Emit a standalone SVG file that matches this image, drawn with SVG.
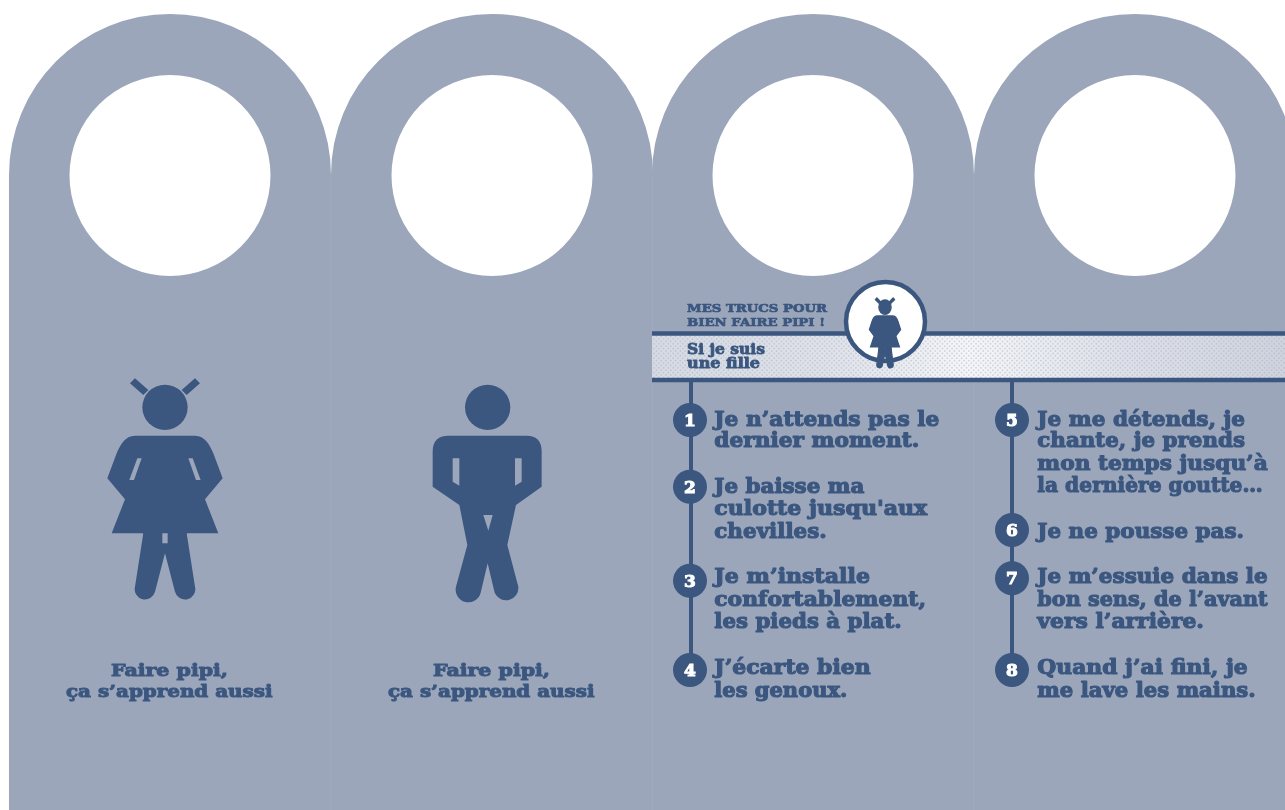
<svg xmlns="http://www.w3.org/2000/svg" width="1285" height="810" viewBox="0 0 1285 810">
<style>
.ink{fill:#3b577f}
.bg{fill:#9ba6bb}
.t{font-family:"DejaVu Serif","Liberation Serif",serif;font-weight:700;fill:#3b577f;stroke:#3b577f;stroke-width:1.1px;stroke-linejoin:round}
.m{font-size:20px}
.c{font-size:17px;stroke-width:1px}
.s{font-size:11.5px;stroke-width:.7px}
.b{font-size:14px;stroke-width:.8px}
.n{font-family:"DejaVu Serif","Liberation Serif",serif;font-weight:700;font-size:17px;fill:#fff;stroke:#fff;stroke-width:1px;text-anchor:middle}
.rule{stroke:#3b577f;fill:none}
</style>
<defs>
<filter id="soft" filterUnits="userSpaceOnUse" x="-20" y="-20" width="1325" height="850"><feGaussianBlur stdDeviation="0.75"/></filter>
<linearGradient id="sheen" gradientUnits="userSpaceOnUse" x1="652" y1="0" x2="1285" y2="0">
<stop offset="0" stop-color="#d6dae2"/><stop offset=".28" stop-color="#dfe2e9"/><stop offset=".5" stop-color="#f5f6f8"/><stop offset=".75" stop-color="#dde0e8"/><stop offset="1" stop-color="#cfd3de"/>
</linearGradient>
<pattern id="dots" width="3.4" height="3.4" patternUnits="userSpaceOnUse" patternTransform="rotate(45)"><circle cx="1.7" cy="1.7" r=".9" fill="#a6aec2" fill-opacity=".55"/></pattern>
<path id="hanger" d="M0,810V175A161,161 0 0 1 322,175V810ZM60.500,175.500A100.500,100.500 0 1 0 261.500,175.500A100.500,100.500 0 1 0 60.500,175.500Z" fill="#9ba6bb" fill-rule="evenodd"/>
<g id="girl">
<circle cx="225" cy="112" r="68" class="ink"/>
<path class="ink" d="M120,40L135,25L175,60L160,75ZM330,40L315,25L275,60L290,75Z"/>
<path class="ink" d="M135,197H315C345,197 360,225 370,250L398,325L345,388L385,490H290L315,650A30,30 0 0 1 255,665L225,550L195,665A30,30 0 0 1 135,650L160,490H65L105,388L52,325L80,250C90,225 105,197 135,197Z"/>
<path class="ink" d="M160,488H290V510H160Z"/>
<path class="bg" d="M217,490H233V520H217ZM142,265H155L132,330H118ZM295,265H308L332,330H318Z"/>
</g>
<g id="boy">
<circle cx="203" cy="112" r="68" class="ink"/>
<path class="ink" d="M85,197H320Q365,197 365,245V350L288,405L262,525L295,650A37,37 0 0 1 224,668L203,580L182,668A37,37 0 0 1 108,650L142,525L118,405L38,350V245Q38,197 85,197Z"/>
<path class="bg" d="M98,265H118V347L98,335ZM285,265H305V335L285,347ZM190,435H218L205,482Z"/>
</g>
</defs>
<rect width="1285" height="810" fill="#fff"/>
<g filter="url(#soft)">
<g id="hanger-1"><use href="#hanger" x="9"/>
<g id="figure-girl"><use href="#girl" transform="translate(90,370) scale(.3333)"/></g>
<g id="caption-1"><text class="t c" x="111" y="676" textLength="117" lengthAdjust="spacingAndGlyphs">Faire pipi,</text>
<text class="t c" x="66" y="696.700" textLength="206.500" lengthAdjust="spacingAndGlyphs">ça s’apprend aussi</text></g>
</g>
<g id="hanger-2"><use href="#hanger" x="331"/>
<g id="figure-boy"><use href="#boy" transform="translate(420,370) scale(.3333)"/></g>
<g id="caption-2"><text class="t c" x="433" y="676" textLength="117" lengthAdjust="spacingAndGlyphs">Faire pipi,</text>
<text class="t c" x="388" y="696.700" textLength="206.500" lengthAdjust="spacingAndGlyphs">ça s’apprend aussi</text></g>
</g>
<g id="hanger-3"><use href="#hanger" x="652"/></g>
<g id="hanger-4"><use href="#hanger" x="974"/></g>
<g id="seams" stroke="#a0aabf" stroke-width="1"><path d="M331,175V810M652.500,175V810M974,175V810"/></g>
<g id="band">
<rect x="652" y="335" width="633" height="44" fill="url(#sheen)"/>
<rect x="652" y="335" width="633" height="44" fill="url(#dots)"/>
<path class="rule" stroke-width="4.500" d="M652,333.500H1285M652,380H1285"/>
<text class="t s" x="687" y="311.700" textLength="140" lengthAdjust="spacingAndGlyphs">MES TRUCS POUR</text>
<text class="t s" x="687" y="325.700" textLength="138" lengthAdjust="spacingAndGlyphs">BIEN FAIRE PIPI !</text>
<text class="t b" x="687" y="354" textLength="78" lengthAdjust="spacingAndGlyphs">Si je suis</text>
<text class="t b" x="687" y="368.300" textLength="73" lengthAdjust="spacingAndGlyphs">une fille</text>
</g>
<g id="connectors">
<path class="rule" stroke-width="4" d="M691,381V670M1012,381V670"/>
</g>
<g id="medallion">
<circle cx="885.500" cy="321.500" r="39.500" fill="#fff" stroke="#3b577f" stroke-width="4.500"/>
<use href="#girl" transform="translate(864.750,295.400) scale(.09,.105)" stroke="#3b577f" stroke-width="14"/>
</g>
<g id="step-1"><circle class="ink" cx="690" cy="420" r="17"/><text class="n" x="690" y="426">1</text>
<text class="t m" x="714.300" y="425.700" textLength="225" lengthAdjust="spacingAndGlyphs">Je n’attends pas le</text>
<text class="t m" x="714.300" y="447.300" textLength="205" lengthAdjust="spacingAndGlyphs">dernier moment.</text></g>
<g id="step-2"><circle class="ink" cx="690" cy="486.700" r="17"/><text class="n" x="690" y="492.700">2</text>
<text class="t m" x="714.300" y="492.700" textLength="150" lengthAdjust="spacingAndGlyphs">Je baisse ma</text>
<text class="t m" x="714.300" y="515" textLength="213" lengthAdjust="spacingAndGlyphs">culotte jusqu'aux</text>
<text class="t m" x="714.300" y="537.700" textLength="112.500" lengthAdjust="spacingAndGlyphs">chevilles.</text></g>
<g id="step-3"><circle class="ink" cx="690" cy="580.700" r="17"/><text class="n" x="690" y="586.700">3</text>
<text class="t m" x="714.300" y="583" textLength="155.700" lengthAdjust="spacingAndGlyphs">Je m’installe</text>
<text class="t m" x="714.300" y="605.700" textLength="211.700" lengthAdjust="spacingAndGlyphs">confortablement,</text>
<text class="t m" x="714.300" y="628.300" textLength="187.400" lengthAdjust="spacingAndGlyphs">les pieds à plat.</text></g>
<g id="step-4"><circle class="ink" cx="690" cy="670" r="17"/><text class="n" x="690" y="676">4</text>
<text class="t m" x="714.300" y="674.300" textLength="156.400" lengthAdjust="spacingAndGlyphs">J’écarte bien</text>
<text class="t m" x="714.300" y="696.700" textLength="133" lengthAdjust="spacingAndGlyphs">les genoux.</text></g>
<g id="step-5"><circle class="ink" cx="1012" cy="420" r="17"/><text class="n" x="1012" y="426">5</text>
<text class="t m" x="1037.300" y="425.700" textLength="207.700" lengthAdjust="spacingAndGlyphs">Je me détends, je</text>
<text class="t m" x="1037.300" y="447.300" textLength="207.700" lengthAdjust="spacingAndGlyphs">chante, je prends</text>
<text class="t m" x="1037.300" y="470" textLength="230.400" lengthAdjust="spacingAndGlyphs">mon temps jusqu’à</text>
<text class="t m" x="1037.300" y="492.300" textLength="225.400" lengthAdjust="spacingAndGlyphs">la dernière goutte…</text></g>
<g id="step-6"><circle class="ink" cx="1012" cy="530" r="17"/><text class="n" x="1012" y="536">6</text>
<text class="t m" x="1037.300" y="538.300" textLength="206.700" lengthAdjust="spacingAndGlyphs">Je ne pousse pas.</text></g>
<g id="step-7"><circle class="ink" cx="1012" cy="578.300" r="17"/><text class="n" x="1012" y="584.300">7</text>
<text class="t m" x="1037.300" y="583.300" textLength="230.400" lengthAdjust="spacingAndGlyphs">Je m’essuie dans le</text>
<text class="t m" x="1037.300" y="605.700" textLength="230.400" lengthAdjust="spacingAndGlyphs">bon sens, de l’avant</text>
<text class="t m" x="1037.300" y="628.300" textLength="166.700" lengthAdjust="spacingAndGlyphs">vers l’arrière.</text></g>
<g id="step-8"><circle class="ink" cx="1012" cy="670" r="17"/><text class="n" x="1012" y="676">8</text>
<text class="t m" x="1037.300" y="674.300" textLength="210.400" lengthAdjust="spacingAndGlyphs">Quand j’ai fini, je</text>
<text class="t m" x="1037.300" y="696.700" textLength="218.400" lengthAdjust="spacingAndGlyphs">me lave les mains.</text></g>
</g>
</svg>
